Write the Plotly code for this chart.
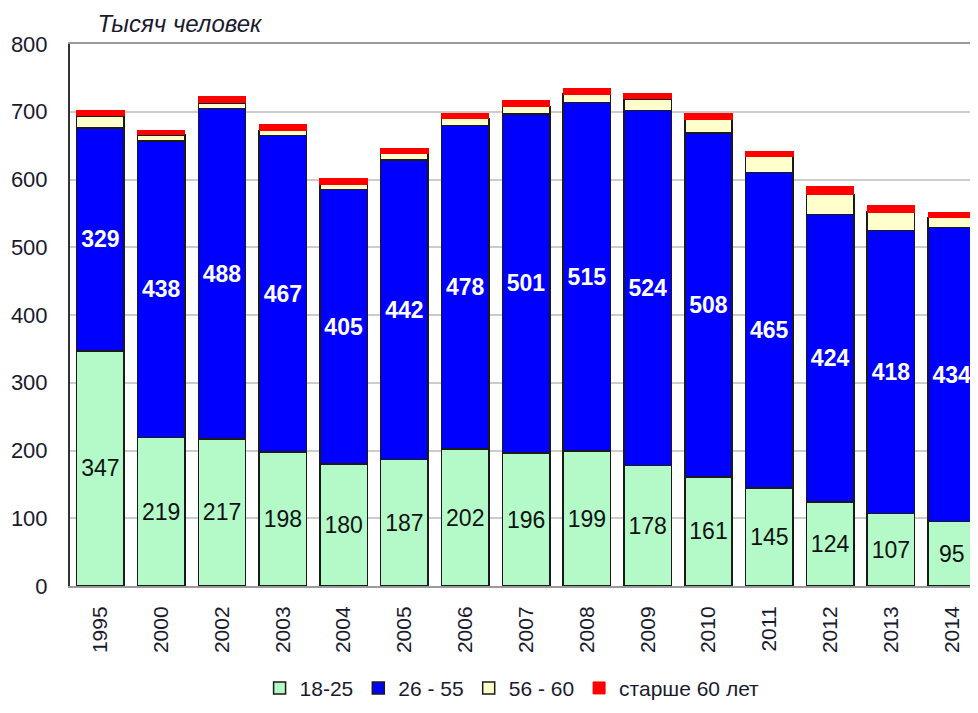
import plotly.graph_objects as go

years = ["1995", "2000", "2002", "2003", "2004", "2005", "2006", "2007",
         "2008", "2009", "2010", "2011", "2012", "2013", "2014"]
age_18_25 = [347, 219, 217, 198, 180, 187, 202, 196, 199, 178, 161, 145, 124, 107, 95]
age_26_55 = [329, 438, 488, 467, 405, 442, 478, 501, 515, 524, 508, 465, 424, 418, 434]
age_56_60 = [18, 9, 8, 7, 8, 10, 10, 11, 12, 17, 20, 24, 30, 27, 15]
age_60_plus = [8, 7, 9, 9, 8, 7, 8, 8, 8, 8, 8, 8, 11, 10, 8]

y_ticks = [0, 100, 200, 300, 400, 500, 600, 700, 800]

FONT = "Arial, Liberation Sans, sans-serif"
EDGE = "#1a1a1a"
TXT = "#1a1a2e"

fig = go.Figure()
fig.add_trace(go.Bar(
    x=years, y=age_18_25, name="18-25",
    marker=dict(color="#B3FAC8", line=dict(color=EDGE, width=1.5)),
    text=[str(v) for v in age_18_25], textposition="inside",
    insidetextanchor="middle",
    textfont=dict(family=FONT, size=23, color="#111111"),
))
fig.add_trace(go.Bar(
    x=years, y=age_26_55, name="26 - 55",
    marker=dict(color="#0000FF", line=dict(color=EDGE, width=1.5)),
    text=[f"<b>{v}</b>" for v in age_26_55], textposition="inside",
    insidetextanchor="middle",
    textfont=dict(family=FONT, size=23, color="#FFFFFF"),
))
fig.add_trace(go.Bar(
    x=years, y=age_56_60, name="56 - 60",
    marker=dict(color="#FFFFCC", line=dict(color=EDGE, width=1.5)),
))
fig.add_trace(go.Bar(
    x=years, y=age_60_plus, name="старше 60 лет",
    marker=dict(color="#FF0000", line=dict(color="#FF0000", width=1)),
))

fig.update_layout(
    width=962, height=697,
    barmode="stack", bargap=0.22,
    plot_bgcolor="white", paper_bgcolor="white",
    margin=dict(l=62, r=0, t=36, b=119),
    font=dict(family=FONT, size=21, color=TXT),
    title=dict(text="<i>Тысяч человек</i>", xref="container", x=0.093,
               xanchor="left", y=0.977, yanchor="middle",
               font=dict(family=FONT, size=24, color=TXT)),
    legend=dict(orientation="h", xref="container", yref="container",
                x=0.524, xanchor="center", y=0.024, yanchor="middle",
                traceorder="normal",
                font=dict(family=FONT, size=21, color=TXT),
                itemclick=False),
    showlegend=True,
)
fig.update_xaxes(
    type="category", range=[-0.5, 14.3],
    tickangle=-90, tickfont=dict(family=FONT, size=21, color=TXT),
    showline=True, linecolor="#9a9a9a", linewidth=2, mirror=True,
    ticks="outside", ticklen=10, tickcolor="rgba(0,0,0,0)",
    showgrid=False,
)
fig.update_yaxes(
    range=[0, 800], tickvals=y_ticks,
    tickfont=dict(family=FONT, size=22, color=TXT),
    showgrid=True, gridcolor="#cccccc", gridwidth=1.5,
    showline=True, linecolor="#333333", linewidth=2,
    ticks="outside", ticklen=16, tickcolor="rgba(0,0,0,0)",
    zeroline=False,
)

fig.write_html("out.html")
